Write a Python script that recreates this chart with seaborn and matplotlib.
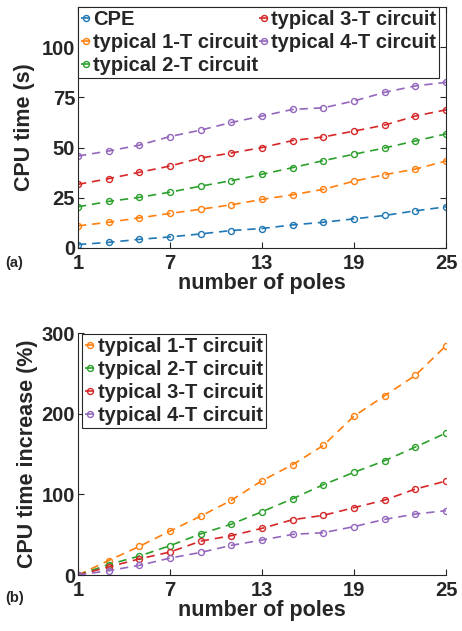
import matplotlib
matplotlib.use("Agg")
import matplotlib.pyplot as plt
import seaborn as sns
import numpy as np
import pandas as pd

sns.set_theme(style="white")
plt.rcParams['font.family'] = ['Liberation Sans', 'DejaVu Sans']
plt.rcParams['font.weight'] = 'bold'

poles = [1, 3, 5, 7, 9, 11, 13, 15, 17, 19, 21, 23, 25]

cpe_time = [1.7, 2.8, 4.3, 5.5, 7.0, 8.7, 9.7, 11.5, 12.8, 14.5, 16.2, 18.5, 20.5]
t1_time = [11.0, 12.8, 15.0, 17.2, 19.3, 21.5, 24.2, 26.5, 29.2, 33.3, 36.5, 39.3, 43.3]
t2_time = [20.5, 23.2, 25.2, 27.8, 30.8, 33.5, 36.7, 40.0, 43.5, 46.7, 49.8, 53.3, 56.8]
t3_time = [31.7, 34.5, 37.7, 40.8, 44.8, 47.3, 50.0, 53.5, 55.3, 58.2, 61.2, 65.7, 68.8]
t4_time = [45.8, 48.3, 51.2, 55.5, 58.7, 62.5, 65.7, 69.0, 69.8, 73.2, 77.5, 80.7, 82.5]

t1_inc = [0, 18, 35.5, 54.5, 73, 92.6, 117, 136.8, 160.7, 197, 222.3, 247.5, 284.3]
t2_inc = [0, 13, 23.5, 36.4, 51, 63, 78.5, 94.6, 112, 127.3, 141.7, 158.7, 176]
t3_inc = [0, 10, 20, 28.5, 42, 48.8, 57.9, 68.6, 74, 83.5, 93, 106.6, 116.5]
t4_inc = [0, 5.4, 12, 21, 28, 36.8, 43.4, 50.4, 52.5, 60, 69, 75.6, 79.8]

labels_top = ["CPE", "typical 1-T circuit", "typical 2-T circuit",
              "typical 3-T circuit", "typical 4-T circuit"]
labels_bot = labels_top[1:]
xticks = [1, 7, 13, 19, 25]

colors = ['#1f77b4', '#ff7f0e', '#2ca02c', '#d62728', '#9467bd']

fig = plt.figure(figsize=(4.62, 6.31), dpi=100)
ax1 = fig.add_axes([0.1688, 0.6070, 0.7966, 0.3819])
ax2 = fig.add_axes([0.1688, 0.0887, 0.7966, 0.3835])

fs_tick = 14.5
fs_lab = 15.5
fs_leg = 14.5

def draw(ax, series, labels, cols):
    for vals, lab, c in zip(series, labels, cols):
        df = pd.DataFrame({"poles": poles, "val": vals})
        sns.lineplot(data=df, x="poles", y="val", ax=ax, color=c, label=lab,
                     marker='o', markerfacecolor='none', markeredgecolor=c,
                     markeredgewidth=1.0, markersize=4.3, linestyle=(0, (5, 3.5)),
                     linewidth=1.2)

draw(ax1, [cpe_time, t1_time, t2_time, t3_time, t4_time], labels_top, colors)
draw(ax2, [t1_inc, t2_inc, t3_inc, t4_inc], labels_bot, colors[1:])

for ax in (ax1, ax2):
    ax.set_xlim(1, 25)
    ax.set_xticks(xticks)
    ax.set_xlabel("number of poles", fontsize=fs_lab, fontweight='bold',
                  labelpad=0, color='#262626')
    ax.tick_params(axis='x', pad=4)
    ax.tick_params(axis='y', pad=2)
    ax.tick_params(direction='in', length=4, width=0.8, colors='#262626',
                   labelsize=fs_tick)
    for lab in ax.get_xticklabels() + ax.get_yticklabels():
        lab.set_fontweight('bold')
        lab.set_color('#262626')

ax1.set_ylim(0, 120)
ax1.set_yticks([0, 25, 50, 75, 100])
ax1.set_ylabel("CPU time (s)", fontsize=fs_lab, fontweight='bold', labelpad=5,
               color='#262626')
ax1.tick_params(right=True, top=True, left=True, bottom=True)
for s in ax1.spines.values():
    s.set_color('#262626')
    s.set_linewidth(0.8)

ax2.set_ylim(0, 300)
ax2.set_yticks([0, 100, 200, 300])
ax2.set_ylabel("CPU time increase (%)", fontsize=fs_lab, fontweight='bold',
               labelpad=3, color='#262626')
ax2.tick_params(left=True, bottom=True)
ax2.spines['top'].set_visible(False)
ax2.spines['right'].set_visible(False)
for s in ('left', 'bottom'):
    ax2.spines[s].set_color('#262626')
    ax2.spines[s].set_linewidth(0.8)

leg1 = ax1.legend(ncol=2, loc='upper left', bbox_to_anchor=(0.0, 1.0),
                  prop={'weight': 'bold', 'size': fs_leg}, handlelength=0.5,
                  handletextpad=0.1, columnspacing=0.05, labelspacing=0.2,
                  borderpad=0.15, borderaxespad=0.0, frameon=True, fancybox=False,
                  edgecolor='#262626', framealpha=1)
leg1.get_frame().set_linewidth(0.8)

leg2 = ax2.legend(loc='upper left', bbox_to_anchor=(0.012, 0.995),
                  prop={'weight': 'bold', 'size': fs_leg}, handlelength=0.5,
                  handletextpad=0.1, labelspacing=0.2, borderpad=0.15,
                  borderaxespad=0.0, frameon=True, fancybox=False,
                  edgecolor='#262626', framealpha=1)
leg2.get_frame().set_linewidth(0.8)

fig.text(0.012, 0.583, "(a)", fontsize=10.5, fontweight='bold', va='center')
fig.text(0.012, 0.052, "(b)", fontsize=10.5, fontweight='bold', va='center')

fig.savefig("out.png", dpi=100)
